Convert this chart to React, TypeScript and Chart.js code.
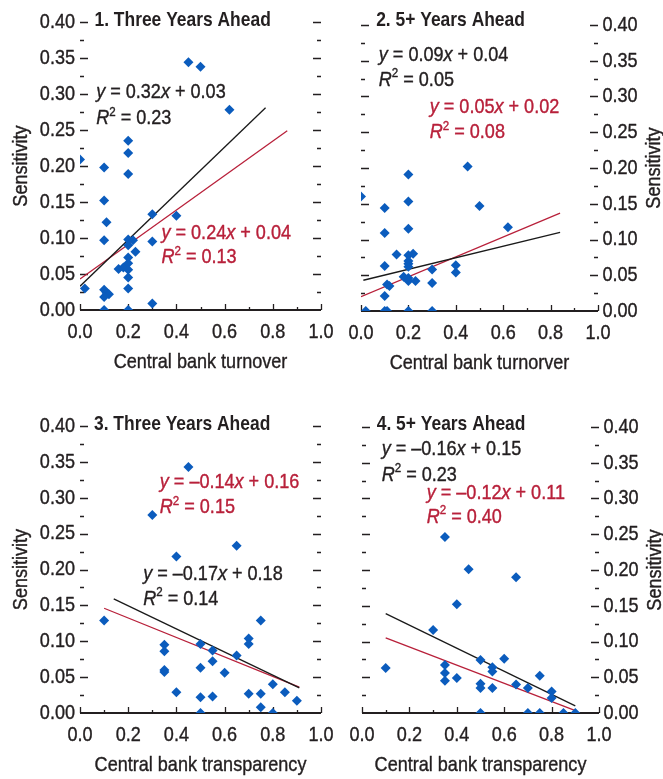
import React, { useEffect, useRef } from "react";
import { Chart, registerables } from "chart.js";

Chart.register(...registerables);

const FONT = "'Liberation Sans', Arial, 'Helvetica', sans-serif";
const INK = "#231f20";
const RED = "#b8203a";
const BLUE = "#0b5cbd";
const FS = 21;
const SX = 0.86; // horizontal condensing of regular text
const SXB = 0.83; // horizontal condensing of bold text
const WEIGHT = 0.4; // extra stroke to thicken condensed glyphs

// ---------- data ----------
const yTicks = [0, 0.05, 0.1, 0.15, 0.2, 0.25, 0.3, 0.35, 0.4];
const xTicks = [0, 0.2, 0.4, 0.6, 0.8, 1.0];

// Panel 1: three years ahead vs turnover
const p1X = [0.00, 0.10, 0.20, 0.20, 0.20, 0.45, 0.50, 0.62, 0.10, 0.11, 0.10, 0.30, 0.40, 0.30, 0.20, 0.22, 0.20, 0.23, 0.20, 0.20, 0.16, 0.18, 0.20, 0.20, 0.20, 0.02, 0.10, 0.11, 0.12, 0.10, 0.10, 0.20, 0.30];
const p1Y = [0.209, 0.198, 0.235, 0.218, 0.189, 0.344, 0.338, 0.278, 0.152, 0.122, 0.097, 0.133, 0.131, 0.095, 0.098, 0.097, 0.090, 0.081, 0.073, 0.065, 0.057, 0.059, 0.056, 0.045, 0.030, 0.030, 0.028, 0.024, 0.022, 0.018, 0.000, 0.000, 0.009];
const p1BlackX = [0.0, 0.77];
const p1BlackY = [0.033, 0.281];
const p1RedX = [0.0, 0.86];
const p1RedY = [0.043, 0.249];

// Panel 2: 5+ years ahead vs turnover
const p2X = [0.45, 0.20, 0.00, 0.20, 0.10, 0.50, 0.62, 0.10, 0.20, 0.15, 0.20, 0.22, 0.20, 0.20, 0.20, 0.10, 0.30, 0.40, 0.40, 0.18, 0.20, 0.20, 0.23, 0.11, 0.12, 0.30, 0.10, 0.02, 0.10, 0.11, 0.20, 0.30];
const p2Y = [0.202, 0.191, 0.160, 0.153, 0.144, 0.147, 0.117, 0.109, 0.115, 0.079, 0.078, 0.080, 0.070, 0.066, 0.062, 0.063, 0.058, 0.064, 0.054, 0.048, 0.046, 0.042, 0.042, 0.037, 0.035, 0.039, 0.021, 0.000, 0.000, 0.000, 0.000, 0.000];
const p2BlackX = [0.01, 0.84];
const p2BlackY = [0.043, 0.110];
const p2RedX = [0.0, 0.84];
const p2RedY = [0.020, 0.137];

// Panel 3: three years ahead vs transparency
const p3X = [0.45, 0.30, 0.40, 0.65, 0.10, 0.75, 0.35, 0.35, 0.35, 0.35, 0.40, 0.50, 0.50, 0.50, 0.50, 0.55, 0.55, 0.55, 0.60, 0.65, 0.70, 0.70, 0.70, 0.75, 0.75, 0.80, 0.80, 0.85, 0.90];
const p3Y = [0.343, 0.276, 0.218, 0.233, 0.129, 0.129, 0.095, 0.086, 0.060, 0.057, 0.029, 0.096, 0.063, 0.022, 0.000, 0.087, 0.072, 0.023, 0.056, 0.080, 0.104, 0.096, 0.027, 0.027, 0.008, 0.040, 0.000, 0.029, 0.017];
const p3BlackX = [0.14, 0.91];
const p3BlackY = [0.159, 0.035];
const p3RedX = [0.10, 0.91];
const p3RedY = [0.146, 0.036];

// Panel 4: 5+ years ahead vs transparency
const p4X = [0.35, 0.45, 0.65, 0.40, 0.30, 0.10, 0.35, 0.35, 0.35, 0.40, 0.50, 0.50, 0.50, 0.50, 0.55, 0.55, 0.55, 0.60, 0.65, 0.70, 0.70, 0.75, 0.75, 0.80, 0.80, 0.85, 0.90];
const p4Y = [0.246, 0.201, 0.190, 0.152, 0.116, 0.063, 0.067, 0.056, 0.045, 0.049, 0.074, 0.041, 0.035, 0.000, 0.064, 0.058, 0.035, 0.076, 0.040, 0.035, 0.000, 0.052, 0.000, 0.030, 0.021, 0.000, 0.000];
const p4BlackX = [0.10, 0.90];
const p4BlackY = [0.139, 0.010];
const p4RedX = [0.10, 0.895];
const p4RedY = [0.105, 0.004];

const titles = ["1. Three Years Ahead", "2. 5+ Years Ahead", "3. Three Years Ahead", "4. 5+ Years Ahead"];
const xTitles = ["Central bank turnover", "Central bank turnorver", "Central bank transparency", "Central bank transparency"];
const yTitle = "Sensitivity";
const blackEq = ["y = 0.32x + 0.03", "y = 0.09x + 0.04", "y = \u20130.17x + 0.18", "y = \u20130.16x + 0.15"];
const blackR2 = ["R\u00b2 = 0.23", "R\u00b2 = 0.05", "R\u00b2 = 0.14", "R\u00b2 = 0.23"];
const redEq = ["y = 0.24x + 0.04", "y = 0.05x + 0.02", "y = \u20130.14x + 0.16", "y = \u20130.12x + 0.11"];
const redR2 = ["R\u00b2 = 0.13", "R\u00b2 = 0.08", "R\u00b2 = 0.15", "R\u00b2 = 0.40"];

// ---------- layout (positions only) ----------
type Layout = {
  left: number; top: number; w: number; h: number;
  pad: { left: number; right: number; top: number; bottom: number };
  yPos: "left" | "right"; yW: number;
  titleAt: [number, number];
  blackAt: [number, number, number];
  redAt: [number, number, number];
};

const layouts: Layout[] = [
  { left: 0, top: 0, w: 341, h: 390, pad: { left: 0, right: 20, top: 22, bottom: 30 }, yPos: "left", yW: 80,
    titleAt: [0.06, 0.403], blackAt: [0.067, 0.303, 0.266], redAt: [0.338, 0.1065, 0.073] },
  { left: 331, top: 0, w: 332, h: 390, pad: { left: 30, right: 10, top: 25, bottom: 29 }, yPos: "right", yW: 55,
    titleAt: [0.064, 0.407], blackAt: [0.075, 0.358, 0.323], redAt: [0.29, 0.2845, 0.25] },
  { left: 0, top: 400, w: 341, h: 379, pad: { left: 0, right: 20, top: 26, bottom: 16 }, yPos: "left", yW: 80,
    titleAt: [0.058, 0.403], blackAt: [0.262, 0.1937, 0.159], redAt: [0.331, 0.322, 0.2867] },
  { left: 331, top: 400, w: 332, h: 379, pad: { left: 31, right: 9, top: 27, bottom: 16 }, yPos: "right", yW: 55,
    titleAt: [0.062, 0.404], blackAt: [0.083, 0.369, 0.333], redAt: [0.273, 0.308, 0.274] },
];

const series = [
  { xs: p1X, ys: p1Y, bx: p1BlackX, by: p1BlackY, rx: p1RedX, ry: p1RedY },
  { xs: p2X, ys: p2Y, bx: p2BlackX, by: p2BlackY, rx: p2RedX, ry: p2RedY },
  { xs: p3X, ys: p3Y, bx: p3BlackX, by: p3BlackY, rx: p3RedX, ry: p3RedY },
  { xs: p4X, ys: p4Y, bx: p4BlackX, by: p4BlackY, rx: p4RedX, ry: p4RedY },
];

// ---------- helpers ----------
type Part = { t: string; italic?: boolean; sup?: boolean; bold?: boolean };

function richify(text: string): Part[] {
  const parts: Part[] = [];
  for (const ch of text) {
    let p: Part;
    if (ch === "x" || ch === "y" || ch === "R") p = { t: ch, italic: true };
    else if (ch === "\u00b2") p = { t: "2", sup: true };
    else p = { t: ch };
    const last = parts[parts.length - 1];
    if (last && !!last.italic === !!p.italic && !!last.sup === !!p.sup) last.t += p.t;
    else parts.push(p);
  }
  return parts;
}

function fillWeighted(ctx: CanvasRenderingContext2D, t: string, x: number, y: number, color: string, bold: boolean) {
  ctx.fillStyle = color;
  ctx.fillText(t, x, y);
  if (!bold) {
    ctx.strokeStyle = color;
    ctx.lineWidth = WEIGHT;
    ctx.lineJoin = "round";
    ctx.strokeText(t, x, y);
  }
}

function drawRich(ctx: CanvasRenderingContext2D, x: number, y: number, parts: Part[], size: number, color: string) {
  ctx.save();
  ctx.translate(x, y);
  const bold = parts.some((p) => p.bold);
  ctx.scale(bold ? SXB : SX, 1);
  ctx.textBaseline = "middle";
  ctx.textAlign = "left";
  let cx = 0;
  for (const p of parts) {
    const s = p.sup ? size * 0.64 : size;
    ctx.font = `${p.italic ? "italic " : ""}${p.bold ? "bold " : ""}${s}px ${FONT}`;
    const dy = p.sup ? -size * 0.3 : 0;
    fillWeighted(ctx, p.t, cx, dy, color, !!p.bold);
    cx += ctx.measureText(p.t).width;
  }
  ctx.restore();
}

function drawText(ctx: CanvasRenderingContext2D, text: string, x: number, y: number, align: CanvasTextAlign, rot = 0) {
  ctx.save();
  ctx.translate(x, y);
  if (rot) ctx.rotate(rot);
  ctx.scale(SX, 1);
  ctx.font = `${FS}px ${FONT}`;
  ctx.textAlign = align;
  ctx.textBaseline = "middle";
  fillWeighted(ctx, text, 0, 0, INK, false);
  ctx.restore();
}

function makePlugin(idx: number) {
  const L = layouts[idx];
  return {
    id: "decor" + idx,
    beforeDatasetsDraw(chart: any) {
      const ctx: CanvasRenderingContext2D = chart.ctx;
      const { left, right, bottom } = chart.chartArea;
      const xs = chart.scales.x;
      const ys = chart.scales.y;
      ctx.save();
      ctx.strokeStyle = INK;
      // y dashes on both sides
      ctx.lineWidth = 1.5;
      for (let k = 1; k <= 16; k++) {
        const py = Math.round(ys.getPixelForValue(k * 0.025)) + 0.5;
        const len = k % 2 === 0 ? 8 : 4;
        ctx.beginPath();
        ctx.moveTo(left, py);
        ctx.lineTo(left + len, py);
        ctx.moveTo(right - len, py);
        ctx.lineTo(right, py);
        ctx.stroke();
      }
      // x axis line
      const x0 = xs.getPixelForValue(0);
      const x1 = xs.getPixelForValue(1);
      ctx.lineWidth = 2;
      ctx.beginPath();
      ctx.moveTo(x0, bottom);
      ctx.lineTo(x1, bottom);
      ctx.stroke();
      ctx.lineWidth = 1.3;
      for (let k = 0; k <= 10; k++) {
        const px = Math.round(xs.getPixelForValue(k / 10)) + 0.5;
        const len = k % 2 === 0 ? 6 : 3;
        ctx.beginPath();
        ctx.moveTo(px, bottom);
        ctx.lineTo(px, bottom - len);
        ctx.stroke();
      }
      ctx.restore();
    },
    afterDraw(chart: any) {
      const ctx: CanvasRenderingContext2D = chart.ctx;
      const { left, right, top, bottom } = chart.chartArea;
      const xs = chart.scales.x;
      const ys = chart.scales.y;
      // tick labels, placed by the library's scales
      for (const v of yTicks) {
        const py = ys.getPixelForValue(v);
        if (L.yPos === "left") drawText(ctx, v.toFixed(2), left - 5, py, "right");
        else drawText(ctx, v.toFixed(2), right + 4.5, py, "left");
      }
      for (const v of xTicks) {
        drawText(ctx, v.toFixed(1), xs.getPixelForValue(v), bottom + 22, "center");
      }
      // title
      drawRich(ctx, xs.getPixelForValue(L.titleAt[0]), ys.getPixelForValue(L.titleAt[1]),
        [{ t: titles[idx], bold: true }], FS, INK);
      // equations
      drawRich(ctx, xs.getPixelForValue(L.blackAt[0]), ys.getPixelForValue(L.blackAt[1]), richify(blackEq[idx]), FS, INK);
      drawRich(ctx, xs.getPixelForValue(L.blackAt[0]), ys.getPixelForValue(L.blackAt[2]), richify(blackR2[idx]), FS, INK);
      drawRich(ctx, xs.getPixelForValue(L.redAt[0]), ys.getPixelForValue(L.redAt[1]), richify(redEq[idx]), FS, RED);
      drawRich(ctx, xs.getPixelForValue(L.redAt[0]), ys.getPixelForValue(L.redAt[2]), richify(redR2[idx]), FS, RED);
      // axis titles
      drawText(ctx, xTitles[idx], (left + right) / 2, bottom + 52, "center");
      const tx = L.yPos === "left" ? left - 59 : right + 56;
      drawText(ctx, yTitle, tx, (top + bottom) / 2, "center", -Math.PI / 2);
    },
  };
}

function Panel({ idx }: { idx: number }) {
  const ref = useRef<HTMLCanvasElement | null>(null);
  const L = layouts[idx];
  useEffect(() => {
    if (!ref.current) return;
    const S = series[idx];
    const chart = new Chart(ref.current, {
      type: "scatter",
      data: {
        datasets: [
          {
            data: S.xs.map((x, i) => ({ x, y: S.ys[i] })),
            pointStyle: "rectRot",
            pointRadius: 5,
            backgroundColor: BLUE,
            borderColor: BLUE,
            borderWidth: 0,
            order: 0,
          },
          {
            data: S.bx.map((x, i) => ({ x, y: S.by[i] })),
            showLine: true,
            pointRadius: 0,
            borderColor: "#1a1a1a",
            borderWidth: 1.3,
            order: 1,
          },
          {
            data: S.rx.map((x, i) => ({ x, y: S.ry[i] })),
            showLine: true,
            pointRadius: 0,
            borderColor: RED,
            borderWidth: 1.3,
            order: 2,
          },
        ] as any,
      },
      options: {
        animation: false,
        responsive: false,
        devicePixelRatio: 1,
        events: [],
        layout: { padding: L.pad },
        plugins: { legend: { display: false }, tooltip: { enabled: false } },
        scales: {
          x: {
            type: "linear",
            min: 0,
            max: 1,
            grid: { display: false, drawTicks: false },
            border: { display: false },
            afterFit: (scale: any) => {
              scale.height = 50;
            },
            ticks: { display: false, stepSize: 0.2 },
          },
          y: {
            type: "linear",
            position: L.yPos,
            min: 0,
            max: 0.4,
            grid: { display: false, drawTicks: false },
            border: { display: false },
            afterFit: (scale: any) => {
              scale.width = L.yW;
            },
            ticks: { display: false, stepSize: 0.05 },
          },
        },
      } as any,
      plugins: [makePlugin(idx)],
    });
    return () => chart.destroy();
  }, [idx]);
  return (
    <canvas
      ref={ref}
      width={L.w}
      height={L.h}
      style={{ position: "absolute", left: L.left, top: L.top, width: L.w, height: L.h }}
    />
  );
}

export default function App() {
  return (
    <div style={{ position: "absolute", left: 0, top: 0, width: 663, height: 779, background: "#fff" }}>
      {[0, 1, 2, 3].map((i) => (
        <Panel key={i} idx={i} />
      ))}
    </div>
  );
}
